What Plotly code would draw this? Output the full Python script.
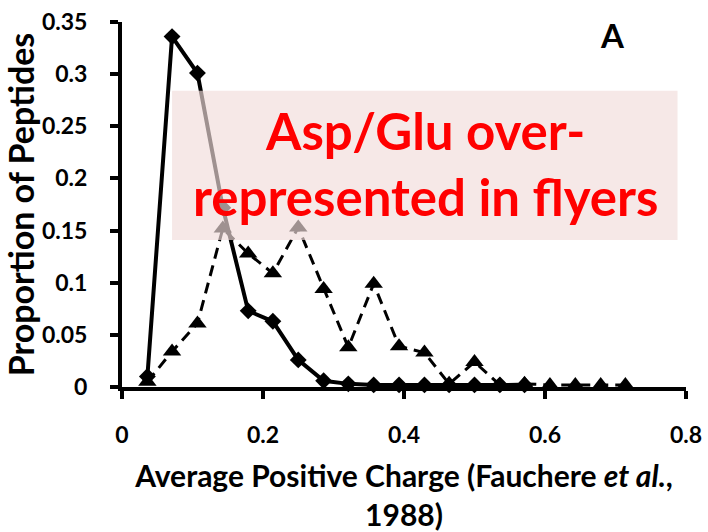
import plotly.graph_objects as go

charge_x = [0.036, 0.071, 0.107, 0.143, 0.179, 0.214, 0.25, 0.286, 0.321, 0.357,
            0.393, 0.429, 0.464, 0.5, 0.536, 0.571, 0.607, 0.643, 0.679, 0.714]
solid_vals = [0.010, 0.336, 0.301, 0.172, 0.073, 0.063, 0.026, 0.006, 0.003, 0.002,
              0.002, 0.002, 0.002, 0.002, 0.002, 0.002]
dashed_vals = [0.005, 0.034, 0.061, 0.152, 0.128, 0.109, 0.153, 0.094, 0.038, 0.099,
               0.039, 0.033, 0.003, 0.024, 0.002, 0.003, 0.002, 0.002, 0.002, 0.002]
y_ticks = [0, 0.05, 0.1, 0.15, 0.2, 0.25, 0.3, 0.35]
y_tick_labels = ["0", "0.05", "0.1", "0.15", "0.2", "0.25", "0.3", "0.35"]
x_ticks = [0, 0.2, 0.4, 0.6, 0.8]
x_tick_labels = ["0", "0.2", "0.4", "0.6", "0.8"]

FONT = "Lato"

fig = go.Figure()
fig.add_trace(go.Scatter(
    x=charge_x[:len(dashed_vals)], y=dashed_vals, mode="lines+markers",
    line=dict(color="black", width=3, dash="11px,7px"),
    marker=dict(symbol="triangle-up", size=16, color="black"),
    showlegend=False, cliponaxis=False))
fig.add_trace(go.Scatter(
    x=charge_x[:len(solid_vals)], y=solid_vals, mode="lines+markers",
    line=dict(color="black", width=4),
    marker=dict(symbol="diamond", size=13, color="black"),
    showlegend=False, cliponaxis=False))

# translucent highlight box (drawn above the lines)
fig.add_shape(type="rect", xref="x", yref="y", x0=0.071, x1=0.788, y0=0.141, y1=0.284,
              fillcolor="rgb(242,220,219)", opacity=0.66, line=dict(width=0), layer="above")

fig.add_annotation(x=0.43, y=0.2145, xref="x", yref="y",
                   text="<b>Asp/Glu over-<br>represented in flyers</b>",
                   showarrow=False, font=dict(family=FONT, size=51, color="#FF0000"),
                   align="center")
fig.add_annotation(x=0.696, y=0.3375, xref="x", yref="y", text="<b>A</b>",
                   showarrow=False, font=dict(family=FONT, size=33, color="black"))

fig.update_layout(
    width=708, height=532,
    margin=dict(l=122, r=22, t=22, b=145),
    paper_bgcolor="white", plot_bgcolor="white",
    font=dict(family=FONT, color="black"),
    xaxis=dict(range=[0, 0.8], tickvals=x_ticks, ticktext=x_tick_labels, automargin=False,
               showgrid=False, zeroline=False, showline=True, linecolor="black", linewidth=4,
               ticks="outside", ticklen=8, tickwidth=4, tickcolor="black",
               tickfont=dict(family=FONT, size=23, weight="bold"), ticklabelstandoff=16,
               title=dict(text="Average Positive Charge (Fauchere <i>et al.</i>,<br>1988)",
                          font=dict(family=FONT, size=30, weight="bold"), standoff=22)),
    yaxis=dict(range=[0, 0.35], tickvals=y_ticks, ticktext=y_tick_labels, automargin=False,
               showgrid=False, zeroline=False, showline=True, linecolor="black", linewidth=4,
               ticks="outside", ticklen=8, tickwidth=4, tickcolor="black",
               tickfont=dict(family=FONT, size=23, weight="bold"), ticklabelstandoff=18,
               title=dict(text="Proportion of Peptides",
                          font=dict(family=FONT, size=34, weight="bold"), standoff=8)),
)

fig.write_html("out.html")
